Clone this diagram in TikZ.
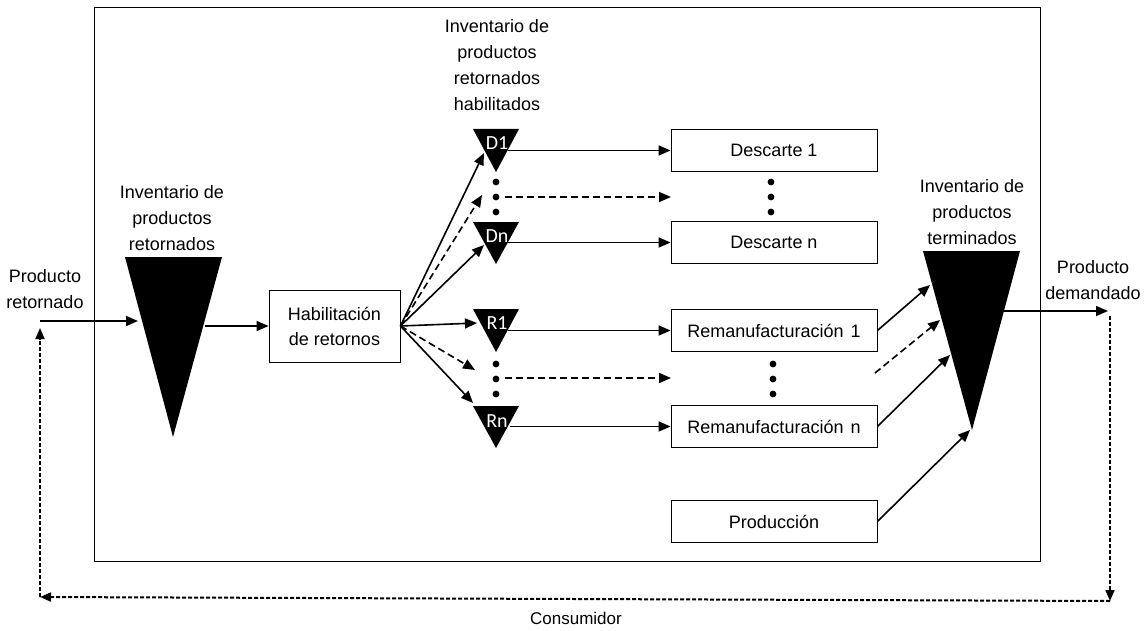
\documentclass[tikz,border=0pt]{standalone}
\usepackage{fontspec}
\setmainfont{Liberation Sans}
\newfontfamily\tagfont{Carlito}
\usetikzlibrary{arrows.meta, positioning}

\tikzset{
  proc/.style={draw, line width=0.9pt, minimum width=206pt, minimum height=42pt, inner sep=0pt,
    font=\fontsize{18}{25}\selectfont},
  lbl/.style={align=center, inner sep=0pt, font=\fontsize{18}{26}\selectfont},
  flow/.style={-{Triangle[length=12pt,width=10pt]}, line width=1.6pt},
  dflow/.style={flow, dash pattern=on 7pt off 4pt},
  loopflow/.style={-{Triangle[length=11pt,width=9pt]}, line width=2pt, dash pattern=on 4pt off 2pt},
  tag/.style={text=white, inner sep=0pt, font=\tagfont\fontsize{20}{20}\selectfont},
  dot/.style={fill=black}
}

\begin{document}
\begin{tikzpicture}[x=1pt, y=-1pt]
\useasboundingbox (0,0) rectangle (1145,631);

% outer frame
\draw[line width=0.9pt] (94,7) rectangle (1040,561);

% inventories
\fill (125,257) -- (222,257) -- (173,437) -- cycle;
\fill (923,251) -- (1020,251) -- (972,430) -- cycle;
\fill (473,129) -- (519,129) -- (496,172) -- cycle;
\fill (473,222) -- (519,222) -- (496,264) -- cycle;
\fill (473,309) -- (519,309) -- (496,352) -- cycle;
\fill (473,406) -- (519,406) -- (496,448) -- cycle;

\node[tag] (tD1) at (497,143) {D1};
\node[tag] (tDn) at (497,236) {Dn};
\node[tag] (tR1) at (497,323) {R1};
\node[tag] (tRn) at (497,421) {Rn};

% processes
\node[proc, minimum width=131pt, minimum height=72pt, align=center] (hab) at (334.5,326) {Habilitación\\de retornos};
\node[proc] (desc1) at (774,150.5) {Descarte 1};
\node[proc] (descn) at (774,242.5) {Descarte n};
\node[proc] (rem1) at (774,330.5) {Remanufacturación\hspace{7pt}1};
\node[proc] (remn) at (774,426.5) {Remanufacturación\hspace{7pt}n};
\node[proc] (prod) at (774,521.5) {Producción};

% labels
\node[lbl] (lret) at (45,289) {Producto\\retornado};
\node[lbl] (linvr) at (172,218) {Inventario de\\productos\\retornados};
\node[lbl] (linvh) at (497,65) {Inventario de\\productos\\retornados\\habilitados};
\node[lbl] (linvt) at (972,212) {Inventario de\\productos\\terminados};
\node[lbl] (ldem) at (1093,280) {Producto\\demandado};
\node[lbl, font=\fontsize{17}{20}\selectfont] (lcons) at (576,618) {Consumidor};

% dots
\foreach \y in {182,197,212} {
  \fill[dot] (496,\y) circle (3.4);
  \fill[dot] (771,\y) circle (3.4);
}
\foreach \y in {364,379,394} {
  \fill[dot] (496,\y) circle (3.4);
  \fill[dot] (773,\y) circle (3.4);
}

% connection points
\coordinate (pin) at (40,321);
\coordinate (invrin) at (138,321);
\coordinate (invrout) at (205,326);
\coordinate (d1in) at (484,153);
\coordinate (ddin) at (482,195);
\coordinate (dnin) at (484,245);
\coordinate (r1in) at (477,323);
\coordinate (rdin) at (475,370);
\coordinate (rnin) at (473,403);
\coordinate (d1out) at (508,150.5);
\coordinate (ddout) at (505,197);
\coordinate (ddend) at (671,197);
\coordinate (dnout) at (507,242.5);
\coordinate (r1out) at (508,330.5);
\coordinate (rdout) at (505,378);
\coordinate (rdend) at (671,378);
\coordinate (rnout) at (510,426.5);
\coordinate (t1in) at (930,285);
\coordinate (tdbeg) at (875,373);
\coordinate (tdin) at (940,320);
\coordinate (tnin) at (950,355);
\coordinate (tpin) at (970,430);
\coordinate (tout) at (1003,311);
\coordinate (pout) at (1108,311);
\coordinate (ctop) at (1110,316);
\coordinate (cright) at (1110,601);
\coordinate (cleft) at (40,597);
\coordinate (ptop) at (40,328);

% flows
\draw[flow] (pin) -- (invrin);
\draw[flow] (invrout) -- (hab.west);
\draw[flow] (hab.east) -- (d1in);
\draw[dflow] (hab.east) -- (ddin);
\draw[flow] (hab.east) -- (dnin);
\draw[flow] (hab.east) -- (r1in);
\draw[dflow] (hab.east) -- (rdin);
\draw[flow] (hab.east) -- (rnin);

\draw[flow] (d1out) -- (desc1.west);
\draw[dflow] (ddout) -- (ddend);
\draw[flow] (dnout) -- (descn.west);
\draw[flow] (r1out) -- (rem1.west);
\draw[dflow] (rdout) -- (rdend);
\draw[flow] (rnout) -- (remn.west);

\draw[flow] (rem1.east) -- (t1in);
\draw[dflow] (tdbeg) -- (tdin);
\draw[flow] (remn.east) -- (tnin);
\draw[flow] (prod.east) -- (tpin);
\draw[flow] (tout) -- (pout);

% consumer loop
\draw[loopflow] (ctop) -- (cright);
\draw[loopflow] (cright) -- (cleft);
\draw[loopflow] (cleft) -- (ptop);
\end{tikzpicture}
\end{document}
